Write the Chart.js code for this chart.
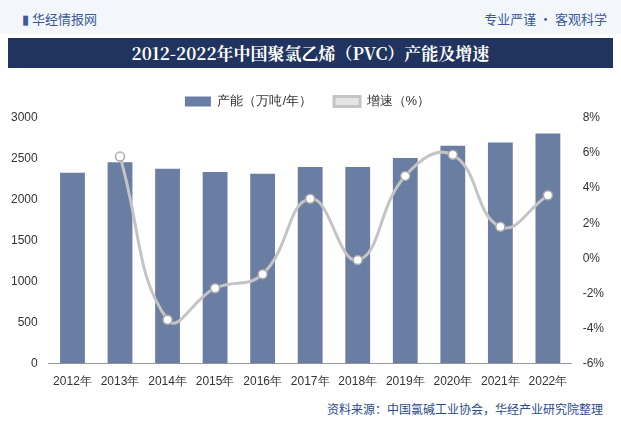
<!DOCTYPE html>
<html><head><meta charset="utf-8">
<script src="https://cdn.jsdelivr.net/npm/chart.js@4"></script>
<style>
body{margin:0;width:621px;height:430px;background:#fff;font-family:"Noto Sans CJK SC",sans-serif;position:relative;overflow:hidden}
#top{position:absolute;left:0;top:0;width:621px;height:34px;background:#f3f6fb}
#logo{position:absolute;left:22px;top:9px;font-size:13px;color:#3a5a9a}
#tag{position:absolute;right:14px;top:9px;font-size:13px;color:#3a5a9a}
#title{position:absolute;left:8px;top:38px;width:605px;height:30px;background:#20345f;color:#fff;font-size:17px;font-weight:bold;text-align:center;line-height:30px;font-family:"Noto Serif CJK SC","Noto Sans CJK SC",serif}
#src{position:absolute;right:18px;top:400px;font-size:12px;color:#2a4a8a}
#wrap{position:absolute;left:0;top:73px;width:621px;height:319px}
</style></head><body>
<div id="top"></div><div id="logo">▮ 华经情报网</div><div id="tag">专业严谨 • 客观科学</div>
<div id="title">2012-2022年中国聚氯乙烯（PVC）产能及增速</div>
<div id="wrap"><canvas id="c"></canvas></div>
<div id="src">资料来源：中国氯碱工业协会，华经产业研究院整理</div>
<script>
const years = ['2012年','2013年','2014年','2015年','2016年','2017年','2018年','2019年','2020年','2021年','2022年'];
const capacity = [2330,2460,2380,2340,2320,2400,2400,2510,2660,2700,2810];
const growth = [null,5.8,-3.5,-1.7,-0.9,3.4,-0.1,4.7,5.9,1.8,3.6];
new Chart(document.getElementById('c'), {
  data: {
    labels: years,
    datasets: [
      {type:'bar',label:'产能（万吨/年）',data:capacity,yAxisID:'y',backgroundColor:'#6a7ea3',barPercentage:0.58,categoryPercentage:0.9,order:1},
      {type:'line',label:'增速（%）',data:growth,yAxisID:'y1',borderColor:'#c4c4c4',borderWidth:3,tension:0.45,
       pointBackgroundColor:'#fff',pointBorderColor:'#aaa',pointBorderWidth:1.5,pointRadius:4.5,order:0}
    ]
  },
  options: {
    responsive:true, maintainAspectRatio:false, animation:false,
    layout:{padding:{left:8,right:14,top:0,bottom:0}},
    plugins:{legend:{labels:{color:'#333',font:{size:13},boxWidth:26,boxHeight:10,padding:22,
      sort:(a,b)=>a.datasetIndex-b.datasetIndex}},tooltip:{enabled:false}},
    scales:{
      x:{grid:{display:false},ticks:{color:'#333',font:{size:12}},border:{color:'#999'}},
      y:{min:0,max:3000,ticks:{stepSize:500,color:'#333',font:{size:12},callback:v=>String(v)},grid:{display:false},border:{display:false}},
      y1:{position:'right',min:-6,max:8,ticks:{stepSize:2,color:'#333',font:{size:12},callback:v=>v+'%'},grid:{display:false},border:{display:false}}
    }
  }
});
</script></body></html>
